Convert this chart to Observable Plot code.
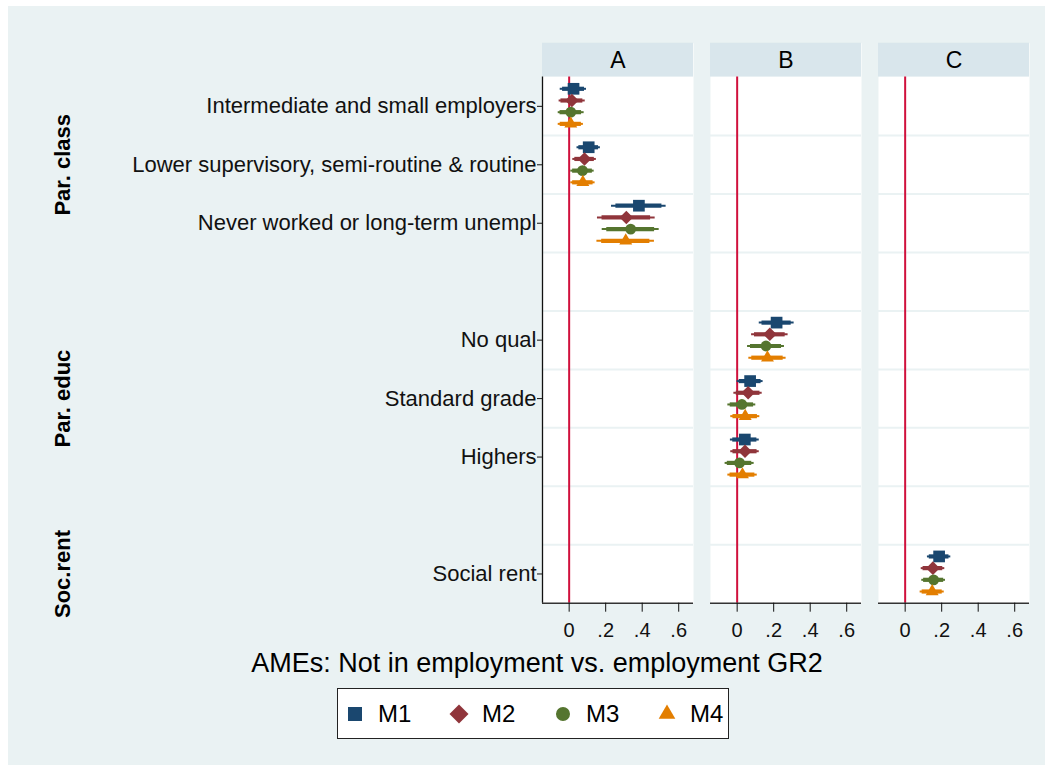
<!DOCTYPE html>
<html>
<head>
<meta charset="utf-8">
<script src="https://cdn.jsdelivr.net/npm/d3@7"></script>
<script src="https://cdn.jsdelivr.net/npm/@observablehq/plot@0.6"></script>
<style>
  body { margin: 0; background: #ffffff; font-family: "Liberation Sans", Arial, sans-serif; }
  #bg { position: absolute; left: 8px; top: 6px; width: 1037px; height: 759px; background: #eaf2f3; }
  #chart { position: absolute; left: 0; top: 0; }
  #xtitle { position: absolute; left: 129px; top: 641px; width: 800px; text-align: center;
            font-size: 27px; line-height: 32px; color: #000; }
  #legend { position: absolute; left: 329px; top: 682px; width: 383px; height: 49px;
            background: #fff; border: 1px solid #222; display: flex; align-items: center;
            padding-left: 7px; box-sizing: content-box; }
  .item { display: flex; align-items: center; width: 104px; flex: 0 0 104px; }
  .item:last-child { flex: 0 0 auto; width: auto; }
  .item svg { margin-right: 13px; }
  .item span { font-size: 24px; color: #000; }
</style>
</head>
<body>
<div id="bg">
  <div id="chart"></div>
  <div id="xtitle">AMEs: Not in employment vs. employment GR2</div>
  <div id="legend"></div>
</div>
<script>
// ---------------- data ----------------
const panels = ["A", "B", "C"];
const categories = [
  "Intermediate and small employers",
  "Lower supervisory, semi-routine & routine",
  "Never worked or long-term unempl",
  "No qual",
  "Standard grade",
  "Highers",
  "Social rent"
];
const categoryPanel = ["A", "A", "A", "B", "B", "B", "C"];
const categoryRow = [0, 1, 2, 4, 5, 6, 8];
const rowCount = 9;

const groups = ["Par. class", "Par. educ", "Soc.rent"];
const groupFirstRow = [0, 4, 8];
const groupEndRow = [3, 7, 9];

const models = ["M1", "M2", "M3", "M4"];

const estM1  = [0.024, 0.107, 0.382, 0.216, 0.071, 0.042, 0.186];
const lo95M1 = [-0.049, 0.043, 0.232, 0.121, 0.000, -0.037, 0.122];
const hi95M1 = [0.095, 0.171, 0.531, 0.312, 0.142, 0.121, 0.250];
const lo90M1 = [-0.036, 0.053, 0.256, 0.136, 0.011, -0.024, 0.132];
const hi90M1 = [0.084, 0.161, 0.508, 0.296, 0.131, 0.108, 0.240];

const estM2  = [0.015, 0.084, 0.313, 0.179, 0.060, 0.043, 0.152];
const lo95M2 = [-0.055, 0.020, 0.155, 0.079, -0.018, -0.035, 0.088];
const hi95M2 = [0.088, 0.149, 0.471, 0.279, 0.137, 0.121, 0.217];
const lo90M2 = [-0.045, 0.031, 0.180, 0.095, -0.005, -0.023, 0.098];
const hi90M2 = [0.075, 0.138, 0.446, 0.263, 0.125, 0.109, 0.206];

const estM3  = [0.009, 0.073, 0.337, 0.158, 0.026, 0.013, 0.156];
const lo95M3 = [-0.060, 0.009, 0.181, 0.057, -0.051, -0.066, 0.091];
const hi95M3 = [0.082, 0.137, 0.493, 0.259, 0.102, 0.093, 0.221];
const lo90M3 = [-0.050, 0.019, 0.206, 0.073, -0.038, -0.054, 0.101];
const hi90M3 = [0.068, 0.127, 0.468, 0.243, 0.090, 0.080, 0.211];

const estM4  = [0.009, 0.075, 0.310, 0.166, 0.044, 0.029, 0.148];
const lo95M4 = [-0.060, 0.009, 0.152, 0.064, -0.035, -0.051, 0.082];
const hi95M4 = [0.078, 0.142, 0.467, 0.268, 0.124, 0.110, 0.214];
const lo90M4 = [-0.049, 0.019, 0.178, 0.080, -0.023, -0.039, 0.093];
const hi90M4 = [0.067, 0.131, 0.442, 0.252, 0.111, 0.097, 0.203];

const xTicks = [0, 0.2, 0.4, 0.6];
const xTickLabels = ["0", ".2", ".4", ".6"];

// ---------------- styles ----------------
const modelColors = ["#1a476f", "#90353b", "#55752f", "#e37e00"];
const modelSymbols = ["square", "diamond2", "circle", "triangle"];
const modelR = [6.6, 6.1, 5.4, 4.8];
const modelOffsets = [-0.3, -0.1, 0.1, 0.3];
const xDomain = [-0.146, 0.681];
const headerRows = 0.58;
const yDomain = [-headerRows, rowCount];

const est = [estM1, estM2, estM3, estM4];
const lo95 = [lo95M1, lo95M2, lo95M3, lo95M4];
const hi95 = [hi95M1, hi95M2, hi95M3, hi95M4];
const lo90 = [lo90M1, lo90M2, lo90M3, lo90M4];
const hi90 = [hi90M1, hi90M2, hi90M3, hi90M4];

const rowTicks = categoryRow.map(r => r + 0.5);

const modelMarks = models.flatMap((m, j) => {
  const rows = categories.map((c, i) => ({
    model: m, category: c, panel: categoryPanel[i],
    y: categoryRow[i] + 0.5 + modelOffsets[j],
    est: est[j][i], lo95: lo95[j][i], hi95: hi95[j][i], lo90: lo90[j][i], hi90: hi90[j][i]
  }));
  return [
    Plot.ruleY(rows, {fx: "panel", y: "y", x1: "lo95", x2: "hi95", stroke: "model", strokeWidth: 2}),
    Plot.ruleY(rows, {fx: "panel", y: "y", x1: "lo90", x2: "hi90", stroke: "model", strokeWidth: 4.2}),
    Plot.dot(rows, {fx: "panel", y: "y", x: "est", fill: "model", stroke: null,
                    symbol: modelSymbols[j], r: modelR[j]})
  ];
});

const chart = Plot.plot({
  width: 1037,
  height: 640,
  marginLeft: 533.7,
  marginRight: 16,
  marginTop: 36.7,
  marginBottom: 43.3,
  style: {background: "transparent", fontFamily: "'Liberation Sans', Arial, sans-serif", color: "#000"},
  fx: {domain: panels, paddingInner: 0.104, paddingOuter: 0, axis: null, label: null},
  x: {domain: xDomain},
  y: {domain: yDomain, reverse: true},
  color: {domain: models, range: modelColors},
  marks: [
    Plot.frame({fill: "white", stroke: null}),
    Plot.rect([0], {x1: xDomain[0], x2: xDomain[1], y1: yDomain[0], y2: 0, fill: "#d9e6ec"}),
    Plot.text(panels, {fx: d => d, y: -headerRows / 2, text: d => d, fontSize: 23}),
    Plot.ruleY(d3.range(1, rowCount), {stroke: "#eaf2f3", strokeWidth: 2}),
    Plot.ruleX([0], {y1: 0, y2: rowCount, stroke: "#d0103c", strokeWidth: 2}),
    Plot.ruleY([rowCount], {stroke: "#333", strokeWidth: 1.5}),
    Plot.ruleX([panels[0]], {fx: d => d, x: xDomain[0], y1: 0, y2: rowCount, stroke: "#111", strokeWidth: 1.3}),
    Plot.axisX({ticks: xTicks, tickFormat: d => xTickLabels[xTicks.indexOf(d)], tickSize: 9,
                tickPadding: 11, fontSize: 20, label: null, color: "#111"}),
    Plot.axisY({ticks: rowTicks, tickFormat: d => categories[rowTicks.indexOf(d)], tickSize: 5,
                tickPadding: 1, fontSize: 22, label: null, color: "#111"}),
    Plot.text(groups, {fx: () => panels[0], y: (d, i) => (groupFirstRow[i] + groupEndRow[i]) / 2,
                       text: d => d, rotate: -90, frameAnchor: "left", textAnchor: "middle", dx: -480,
                       fontSize: 22, fontWeight: "bold"}),
    ...modelMarks
  ]
});
document.getElementById("chart").appendChild(chart);

// ---------------- legend ----------------
const legendSymbolSize = [196, 230, 154, 120];
const symbolTypes = {square: d3.symbolSquare, diamond2: d3.symbolDiamond2, circle: d3.symbolCircle, triangle: d3.symbolTriangle};
const legend = document.getElementById("legend");
models.forEach((m, j) => {
  const item = document.createElement("div");
  item.className = "item";
  const path = d3.symbol(symbolTypes[modelSymbols[j]], legendSymbolSize[j])();
  item.innerHTML = `<svg width="20" height="20" viewBox="-10 -10 20 20"><path d="${path}" fill="${modelColors[j]}"/></svg><span>${m}</span>`;
  legend.appendChild(item);
});
</script>
</body>
</html>
